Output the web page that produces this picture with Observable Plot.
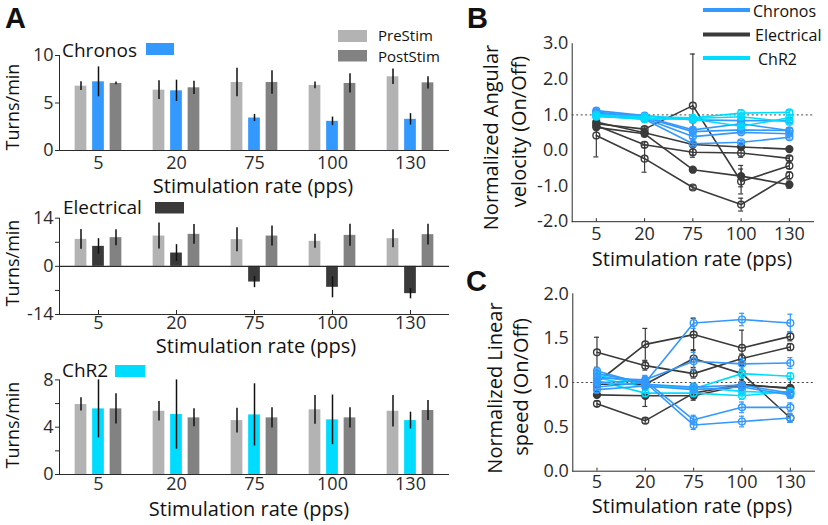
<!DOCTYPE html>
<html>
<head>
<meta charset="utf-8">
<script src="https://cdn.jsdelivr.net/npm/d3@7"></script>
<script src="https://cdn.jsdelivr.net/npm/@observablehq/plot@0.6"></script>
<style>
  html, body { margin: 0; padding: 0; background: white; }
  #root { position: relative; width: 828px; height: 525px; overflow: hidden; background: white; }
  #root > svg { position: absolute; }
</style>
</head>
<body>
<div id="root"></div>
<script>
// ---------- data ----------
const rates = ["5", "20", "75", "100", "130"];
const conds = ["Pre", "Stim", "Post"];

// Panel A – Chronos (turns/min)
const chronosPre      = [6.77, 6.35, 7.16, 6.85, 7.76];
const chronosPreErr   = [0.46, 0.98, 1.49, 0.35, 0.81];
const chronosStim     = [7.23, 6.28, 3.42, 3.07, 3.28];
const chronosStimErr  = [1.57, 1.12, 0.38, 0.45, 0.60];
const chronosPost     = [7.06, 6.60, 7.16, 7.06, 7.12];
const chronosPostErr  = [0.14, 0.70, 1.24, 1.01, 0.64];

// Panel A – Electrical
const elecPre      = [7.85, 8.81, 7.76, 7.27, 8.05];
const elecPreErr   = [2.90, 3.78, 3.49, 2.03, 2.62];
const elecStim     = [5.81, 3.87, -4.56, -6.10, -7.94];
const elecStimErr  = [2.24, 2.44, 1.64, 3.05, 1.50];
const elecPost     = [8.34, 9.30, 8.81, 9.01, 9.22];
const elecPostErr  = [2.33, 2.90, 2.90, 3.20, 3.00];

// Panel A – ChR2
const chr2Pre      = [5.92, 5.35, 4.56, 5.47, 5.35];
const chr2PreErr   = [0.56, 0.82, 1.04, 1.21, 1.33];
const chr2Stim     = [5.55, 5.07, 5.04, 4.62, 4.56];
const chr2StimErr  = [2.45, 2.93, 2.63, 2.10, 0.71];
const chr2Post     = [5.55, 4.79, 4.79, 4.79, 5.41];
const chr2PostErr  = [1.27, 0.76, 0.85, 0.85, 0.85];

// Panel B – normalized angular velocity (On/Off), one array per animal
const angElec = [
  [0.80, 0.50, 0.17, 0.10, 0.04],
  [0.70, 0.16, -0.05, -0.07, -0.22],
  [0.65, 0.47, -0.54, -0.72, -0.96],
  [0.42, -0.23, -1.04, -1.52, -0.70],
  [0.75, 0.60, 1.26, -0.87, -0.43]
];
const angElecErr = [
  [0.05, 0.06, 0.05, 0.06, 0.04],
  [0.05, 0.08, 0.08, 0.12, 0.06],
  [0.06, 0.08, 0.05, 0.30, 0.10],
  [0.60, 0.38, 0.05, 0.18, 0.10],
  [0.05, 0.06, 1.45, 0.35, 0.08]
];
const angElecFilled = [true, false, true, false, false];
const angChronos = [
  [1.12, 0.98, 0.86, 0.84, 0.84],
  [1.08, 0.95, 0.58, 0.75, 0.56],
  [1.05, 0.93, 0.53, 0.58, 0.56],
  [1.02, 0.90, 0.39, 0.51, 0.47],
  [0.98, 0.88, 0.19, 0.23, 0.37]
];
const angChronosErr = [
  [0.05, 0.04, 0.06, 0.06, 0.05],
  [0.05, 0.04, 0.06, 0.06, 0.05],
  [0.04, 0.04, 0.05, 0.05, 0.05],
  [0.04, 0.04, 0.05, 0.05, 0.05],
  [0.04, 0.04, 0.05, 0.05, 0.05]
];
const angChronosFilled = [false, false, false, false, false];
const angChr2 = [
  [1.00, 0.95, 0.92, 1.05, 1.07],
  [0.95, 0.90, 0.88, 0.68, 0.92],
  [0.97, 0.88, 0.90, 0.95, 0.80]
];
const angChr2Err = [
  [0.04, 0.04, 0.05, 0.10, 0.05],
  [0.04, 0.04, 0.05, 0.05, 0.05],
  [0.04, 0.04, 0.05, 0.05, 0.05]
];
const angChr2Filled = [false, false, false];

// Panel C – normalized linear speed (On/Off)
const linElec = [
  [1.34, 1.19, 1.10, 1.27, 1.40],
  [1.00, 1.43, 1.54, 1.39, 1.52],
  [0.98, 0.98, 1.27, 1.10, 0.60],
  [0.86, 0.85, 0.85, 0.97, 0.94],
  [0.76, 0.57, 0.88, 0.98, 0.93]
];
const linElecErr = [
  [0.17, 0.05, 0.05, 0.05, 0.04],
  [0.04, 0.18, 0.18, 0.20, 0.05],
  [0.04, 0.05, 0.10, 0.10, 0.05],
  [0.03, 0.12, 0.05, 0.10, 0.10],
  [0.03, 0.03, 0.05, 0.05, 0.04]
];
const linElecFilled = [false, false, false, true, false];
const linChronos = [
  [1.10, 1.00, 1.67, 1.71, 1.67],
  [1.05, 1.03, 1.24, 1.21, 1.22],
  [1.00, 1.02, 0.58, 0.72, 0.72],
  [0.95, 1.00, 0.52, 0.56, 0.60],
  [1.13, 0.98, 0.95, 0.97, 0.88],
  [0.92, 0.96, 0.92, 0.95, 0.86]
];
const linChronosErr = [
  [0.05, 0.05, 0.06, 0.07, 0.10],
  [0.05, 0.05, 0.10, 0.06, 0.06],
  [0.04, 0.05, 0.05, 0.06, 0.05],
  [0.04, 0.05, 0.05, 0.06, 0.05],
  [0.04, 0.04, 0.04, 0.04, 0.04],
  [0.04, 0.04, 0.04, 0.04, 0.04]
];
const linChronosFilled = [false, false, false, false, false, false];
const linChr2 = [
  [1.08, 0.98, 0.93, 1.10, 1.07],
  [1.02, 0.88, 0.88, 0.85, 0.90],
  [1.05, 0.95, 0.95, 0.90, 0.88]
];
const linChr2Err = [
  [0.04, 0.04, 0.04, 0.05, 0.04],
  [0.04, 0.04, 0.04, 0.04, 0.04],
  [0.04, 0.04, 0.04, 0.04, 0.04]
];
const linChr2Filled = [false, false, false];

// ---------- styles ----------
const FONT = "'Open Sans', sans-serif";
const PRE = "#b3b3b3", POST = "#828282";
const BLUE = "#3399ff", DARK = "#3a3a3a", CYAN = "#00dcff";
const AXIS = "#2a2a2a";

const root = document.getElementById("root");
function place(svg, left, top) {
  svg.style.left = left + "px";
  svg.style.top = top + "px";
  root.appendChild(svg);
}

// ---------- bar panels (A) ----------
function barPanel(o) {
  const rows = [];
  rates.forEach((r, i) => {
    rows.push({rate: r, cond: "Pre", v: o.pre[i], e: o.preErr[i]});
    rows.push({rate: r, cond: "Stim", v: o.stim[i], e: o.stimErr[i]});
    rows.push({rate: r, cond: "Post", v: o.post[i], e: o.postErr[i]});
  });
  const marks = [
    Plot.barY(rows, {fx: "rate", x: "cond", y1: 0, y2: "v", fill: "cond"}),
    Plot.ruleX(rows, {fx: "rate", x: "cond", y1: d => d.v - d.e, y2: d => d.v + d.e, stroke: "#111", strokeWidth: 1.5}),
    Plot.ruleY([0], {stroke: AXIS, strokeWidth: 1.2})
  ];
  if (o.framed) {
    marks.push(Plot.ruleY([o.yDomain[0]], {stroke: AXIS, strokeWidth: 1.2}));
    marks.push(Plot.ruleX(["Stim"], {x: d => d, y1: o.yDomain[0], y2: o.yDomain[0], insetTop: -4, stroke: AXIS}));
  }
  return Plot.plot({
    width: 460, height: o.height,
    marginLeft: 59, marginRight: 11, marginTop: o.mt, marginBottom: o.mb,
    style: {fontFamily: FONT, fontSize: "18px", background: "transparent", color: AXIS},
    fx: {domain: rates, padding: 0, round: false, axis: "bottom", tickSize: 0, tickPadding: o.tickPad, label: null},
    x: {domain: conds, paddingInner: 0.33, paddingOuter: 0.894, round: false, axis: null},
    y: {domain: o.yDomain, ticks: o.yTicks, tickFormat: o.yFormat, tickSize: 4, tickPadding: 2, line: true, label: null},
    color: {domain: conds, range: [PRE, o.stimColor, POST]},
    marks
  });
}

place(barPanel({
  pre: chronosPre, preErr: chronosPreErr, stim: chronosStim, stimErr: chronosStimErr,
  post: chronosPost, postErr: chronosPostErr, stimColor: BLUE,
  yDomain: [0, 10], yTicks: [0, 5, 10], yFormat: d => String(d),
  height: 180, mt: 55, mb: 30, tickPad: 6, framed: false
}), 0, 0);

place(barPanel({
  pre: elecPre, preErr: elecPreErr, stim: elecStim, stimErr: elecStimErr,
  post: elecPost, postErr: elecPostErr, stimColor: DARK,
  yDomain: [-14, 14], yTicks: [-14, -7, 0, 7, 14], yFormat: d => Math.abs(d) === 7 ? "" : String(d),
  height: 150, mt: 27.7, mb: 26, tickPad: 2, framed: true
}), 0, 190);

place(barPanel({
  pre: chr2Pre, preErr: chr2PreErr, stim: chr2Stim, stimErr: chr2StimErr,
  post: chr2Post, postErr: chr2PostErr, stimColor: CYAN,
  yDomain: [0, 8], yTicks: [0, 2, 4, 6, 8], yFormat: d => d % 4 === 0 ? String(d) : "",
  height: 160, mt: 29.4, mb: 36, tickPad: 3, framed: false
}), 0, 350);

// ---------- line panels (B, C) ----------
function linePanel(o) {
  const marks = [Plot.ruleY([1], {stroke: "#444", strokeDasharray: "2,2.5", strokeWidth: 1})];
  for (const g of o.groups) {
    const rows = g.vals.flatMap((arr, j) => arr.map((v, i) => ({id: j, rate: rates[i], v, e: g.errs[j][i], filled: g.filled[j]})));
    marks.push(
      Plot.ruleX(rows, {x: "rate", y1: d => d.v - d.e, y2: d => d.v + d.e, stroke: g.color, strokeWidth: 1.2}),
      Plot.ruleY(rows, {x1: "rate", x2: "rate", y: d => d.v + d.e, stroke: g.color, strokeWidth: 1.2, insetLeft: -2.5, insetRight: -2.5}),
      Plot.ruleY(rows, {x1: "rate", x2: "rate", y: d => d.v - d.e, stroke: g.color, strokeWidth: 1.2, insetLeft: -2.5, insetRight: -2.5}),
      Plot.line(rows, {x: "rate", y: "v", z: "id", stroke: g.color, strokeWidth: 1.6}),
      Plot.dot(rows.filter(d => !d.filled), {x: "rate", y: "v", r: 3.4, stroke: g.color, strokeWidth: 1.4, fill: "none"}),
      Plot.dot(rows.filter(d => d.filled), {x: "rate", y: "v", r: 3.4, stroke: g.color, fill: g.color})
    );
  }
  marks.push(Plot.ruleX(rates, {x: d => d, y1: o.yDomain[0], y2: o.yDomain[0], insetTop: -3, stroke: AXIS}));
  return Plot.plot({
    width: 388, height: o.height,
    marginLeft: o.ml, marginRight: o.mr, marginTop: o.mt, marginBottom: o.mb,
    style: {fontFamily: FONT, fontSize: "18px", background: "transparent", color: AXIS},
    x: {type: "point", domain: rates, padding: 0.5, round: false, tickSize: 0, tickPadding: o.tickPad, line: true, label: null},
    y: {domain: o.yDomain, ticks: o.yTicks, tickFormat: d => d.toFixed(1), tickSize: 0, tickPadding: 4, line: true, label: null},
    marks
  });
}

place(linePanel({
  groups: [
    {vals: angElec, errs: angElecErr, filled: angElecFilled, color: DARK},
    {vals: angChronos, errs: angChronosErr, filled: angChronosFilled, color: BLUE},
    {vals: angChr2, errs: angChr2Err, filled: angChr2Filled, color: CYAN}
  ],
  yDomain: [-2, 3], yTicks: [-2, -1, 0, 1, 2, 3],
  height: 255, ml: 131.7, mr: 15, mt: 43.2, mb: 33.8, tickPad: 6
}), 440, 0);

place(linePanel({
  groups: [
    {vals: linElec, errs: linElecErr, filled: linElecFilled, color: DARK},
    {vals: linChr2, errs: linChr2Err, filled: linChr2Filled, color: CYAN},
    {vals: linChronos, errs: linChronosErr, filled: linChronosFilled, color: BLUE}
  ],
  yDomain: [0, 2], yTicks: [0, 0.5, 1, 1.5, 2],
  height: 230, ml: 132.3, mr: 14, mt: 23.3, mb: 29.3, tickPad: 4
}), 440, 270);

// ---------- titles, legends, panel letters ----------
const ov = d3.select(root).append("svg")
  .attr("width", 828).attr("height", 525)
  .style("left", "0px").style("top", "0px").style("pointer-events", "none")
  .attr("font-family", FONT).attr("fill", "#111");

function txt(s, x, y, size, opt = {}) {
  const t = ov.append("text").attr("x", x).attr("y", y).attr("font-size", size).text(s);
  if (opt.anchor) t.attr("text-anchor", opt.anchor);
  if (opt.bold) t.attr("font-weight", "bold").attr("font-family", "'Liberation Sans', Arial, sans-serif");
  if (opt.rotate) t.attr("transform", `rotate(-90 ${x} ${y})`);
  return t;
}

// panel letters
txt("A", 5, 28, 29, {bold: true});
txt("B", 467, 28, 29, {bold: true});
txt("C", 466, 291, 29, {bold: true});

// panel A axis titles
txt("Turns/min", 19, 107, 18, {anchor: "middle", rotate: true});
txt("Turns/min", 19, 263, 18, {anchor: "middle", rotate: true});
txt("Turns/min", 19, 425, 18, {anchor: "middle", rotate: true});
txt("Stimulation rate (pps)", 253, 193, 20, {anchor: "middle"});
txt("Stimulation rate (pps)", 256, 353, 20, {anchor: "middle"});
txt("Stimulation rate (pps)", 249, 516, 20, {anchor: "middle"});

// panel A labels with swatches
txt("Chronos", 62, 57, 19);
ov.append("rect").attr("x", 146).attr("y", 43).attr("width", 28).attr("height", 12).attr("fill", BLUE);
txt("Electrical", 63, 214, 19);
ov.append("rect").attr("x", 155).attr("y", 202).attr("width", 29).attr("height", 11.5).attr("fill", DARK);
txt("ChR2", 62, 377, 19);
ov.append("rect").attr("x", 115).attr("y", 365).attr("width", 30).attr("height", 12).attr("fill", CYAN);

// PreStim / PostStim legend
ov.append("rect").attr("x", 338).attr("y", 30).attr("width", 29).attr("height", 12).attr("fill", PRE);
txt("PreStim", 378, 41, 15);
ov.append("rect").attr("x", 338).attr("y", 50).attr("width", 29).attr("height", 11.5).attr("fill", POST);
txt("PostStim", 378, 62, 15);

// panel B / C axis titles
txt("Normalized Angular", 498, 137.5, 20, {anchor: "middle", rotate: true});
txt("velocity (On/Off)", 526, 131.5, 20, {anchor: "middle", rotate: true});
txt("Stimulation rate (pps)", 692, 266, 20, {anchor: "middle"});
txt("Normalized Linear", 502, 388, 20, {anchor: "middle", rotate: true});
txt("speed (On/Off)", 528, 387, 20, {anchor: "middle", rotate: true});
txt("Stimulation rate (pps)", 692, 513, 20, {anchor: "middle"});

// panel B line legend
[["Chronos", BLUE, 10, 753, 16.5], ["Electrical", DARK, 34.5, 755, 41], ["ChR2", CYAN, 58, 758, 64.5]].forEach(([name, c, ly, tx, ty]) => {
  ov.append("line").attr("x1", 703).attr("x2", 750).attr("y1", ly).attr("y2", ly).attr("stroke", c).attr("stroke-width", 4);
  txt(name, tx, ty, 16);
});
</script>
</body>
</html>
